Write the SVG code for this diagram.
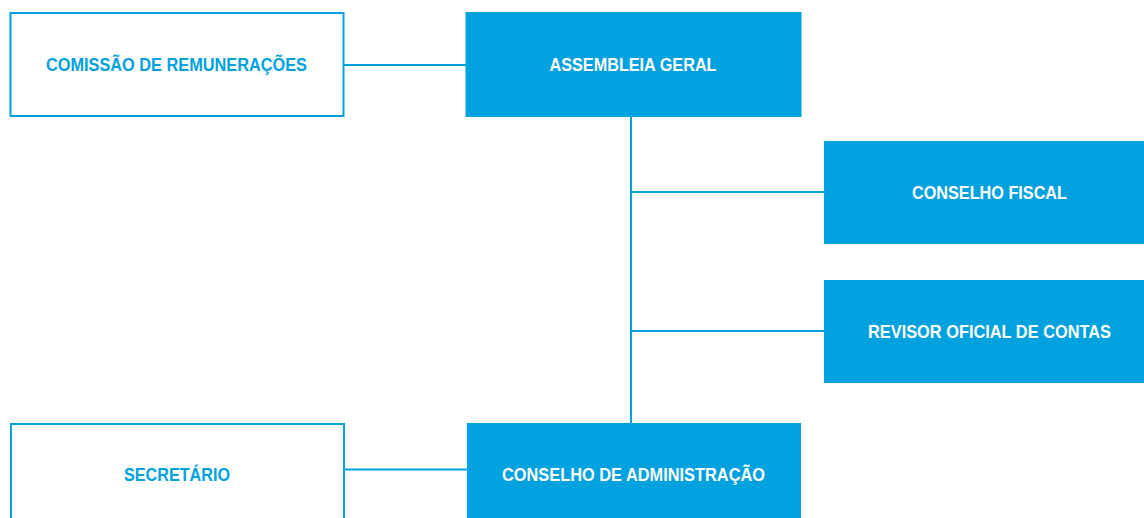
<svg xmlns="http://www.w3.org/2000/svg" width="1144" height="518" viewBox="0 0 1144 518">
<style>
.solid{fill:#00A1DF;stroke:none}
.outline{fill:#fff;stroke:#00A1DF;stroke-width:2}
.lbl{font-family:"Liberation Sans",Arial,sans-serif;font-weight:bold;font-size:19px;text-anchor:middle}
.lw{fill:#fff}
.lb{fill:#00A1DF}
.conn{stroke:#00A1DF;stroke-width:2;fill:none}
</style>
<rect width="1144" height="518" fill="#fff"/>
<g id="connectors">
<line class="conn" x1="344" y1="65" x2="466" y2="65"/>
<line class="conn" x1="631" y1="116" x2="631" y2="423"/>
<line class="conn" x1="631" y1="192" x2="824" y2="192"/>
<line class="conn" x1="631" y1="331" x2="824" y2="331"/>
<line class="conn" x1="344" y1="469.5" x2="467" y2="469.5"/>
</g>
<g id="comissao">
<rect class="outline" x="10.5" y="13" width="333" height="103"/>
<text class="lbl lb" x="176.5" y="71" textLength="261" lengthAdjust="spacingAndGlyphs">COMISSÃO DE REMUNERAÇÕES</text>
</g>
<g id="assembleia">
<rect class="solid" x="465.5" y="12" width="336" height="105"/>
<text class="lbl lw" x="633" y="71" textLength="167" lengthAdjust="spacingAndGlyphs">ASSEMBLEIA GERAL</text>
</g>
<g id="conselho-fiscal">
<rect class="solid" x="824" y="141" width="320" height="103"/>
<text class="lbl lw" x="989.5" y="199" textLength="155" lengthAdjust="spacingAndGlyphs">CONSELHO FISCAL</text>
</g>
<g id="revisor">
<rect class="solid" x="824" y="280" width="320" height="103"/>
<text class="lbl lw" x="989.5" y="338" textLength="243" lengthAdjust="spacingAndGlyphs">REVISOR OFICIAL DE CONTAS</text>
</g>
<g id="secretario">
<rect class="outline" x="11" y="424" width="333" height="110"/>
<text class="lbl lb" x="177" y="481" textLength="106" lengthAdjust="spacingAndGlyphs">SECRETÁRIO</text>
</g>
<g id="conselho-administracao">
<rect class="solid" x="467" y="423" width="334" height="110"/>
<text class="lbl lw" x="633.5" y="481" textLength="263" lengthAdjust="spacingAndGlyphs">CONSELHO DE ADMINISTRAÇÃO</text>
</g>
</svg>
